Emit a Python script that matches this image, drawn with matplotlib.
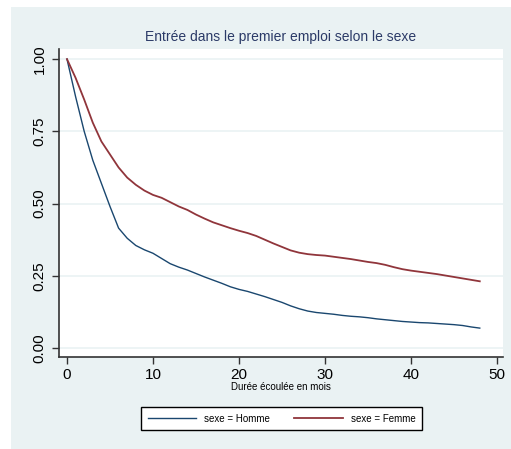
import matplotlib.pyplot as plt
from matplotlib.patches import Rectangle

# Kaplan-Meier estimates, by month since leaving school
mois = list(range(0, 49))
homme = [1.0, 0.87, 0.75, 0.65, 0.57, 0.49, 0.415, 0.38, 0.355, 0.34,
         0.328, 0.31, 0.292, 0.28, 0.27, 0.258, 0.246, 0.235, 0.224, 0.212,
         0.203, 0.196, 0.187, 0.178, 0.168, 0.158, 0.146, 0.136, 0.128, 0.123,
         0.12, 0.117, 0.113, 0.11, 0.108, 0.105, 0.101, 0.098, 0.095, 0.092,
         0.09, 0.088, 0.087, 0.085, 0.083, 0.081, 0.078, 0.073, 0.069]
femme = [1.0, 0.935, 0.86, 0.78, 0.715, 0.67, 0.625, 0.59, 0.565, 0.545,
         0.53, 0.52, 0.505, 0.49, 0.478, 0.462, 0.448, 0.435, 0.425, 0.415,
         0.406, 0.398, 0.388, 0.375, 0.362, 0.35, 0.338, 0.33, 0.325, 0.322,
         0.32, 0.316, 0.312, 0.308, 0.303, 0.298, 0.294, 0.288, 0.28, 0.273,
         0.268, 0.264, 0.26, 0.256, 0.251, 0.246, 0.241, 0.236, 0.231]
yticks = [0, 0.25, 0.5, 0.75, 1.0]
ylabels = ['0.00', '0.25', '0.50', '0.75', '1.00']
xticks = [0, 10, 20, 30, 40, 50]

plt.rcParams['font.family'] = ['Liberation Sans', 'DejaVu Sans']

W, H = 511, 449
fig = plt.figure(figsize=(W / 100, H / 100), dpi=100, facecolor='white')
fig.patches.append(Rectangle((11 / W, 0), 1, 1 - 7 / H, transform=fig.transFigure,
                             facecolor='#eaf2f3', edgecolor='none', zorder=-5))

ax = fig.add_axes([59 / W, 1 - 357 / H, (503 - 59) / W, (357 - 49) / H])
ax.set_facecolor('white')

ax.plot(mois, homme, color='#1a476f', lw=1.0, label='sexe = Homme')
ax.plot(mois, femme, color='#90353b', lw=1.3, label='sexe = Femme')

ax.set_xlim(-0.93, 50.7)
ax.set_ylim(-0.031, 1.035)
ax.set_yticks(yticks)
ax.set_yticklabels(ylabels, rotation=90, va='center', fontsize=11)
ax.set_xticks(xticks)
ax.tick_params(axis='x', labelsize=11, length=5, width=1, pad=3, color='#333333')
ax.tick_params(axis='y', length=5, width=1, pad=4, color='#333333')
ax.grid(axis='y', color='#eaf2f3', lw=1.2)
ax.set_axisbelow(True)

for s in ['top', 'right']:
    ax.spines[s].set_visible(False)
for s in ['left', 'bottom']:
    ax.spines[s].set_color('#333333')
    ax.spines[s].set_linewidth(1.2)

ax.set_title('Entrée dans le premier emploi selon le sexe', fontsize=10,
             color='#2b3a67', pad=6)
ax.set_xlabel('Durée écoulée en mois', fontsize=7, labelpad=0)

fig.legend(loc='center', bbox_to_anchor=((142 + 421) / 2 / W, 1 - 418.5 / H),
           ncol=2, frameon=True, fancybox=False, edgecolor='black',
           facecolor='white', framealpha=1, fontsize=7, handlelength=5,
           columnspacing=2.5, borderpad=0.7)

fig.savefig('out.png', dpi=100, facecolor='white')
